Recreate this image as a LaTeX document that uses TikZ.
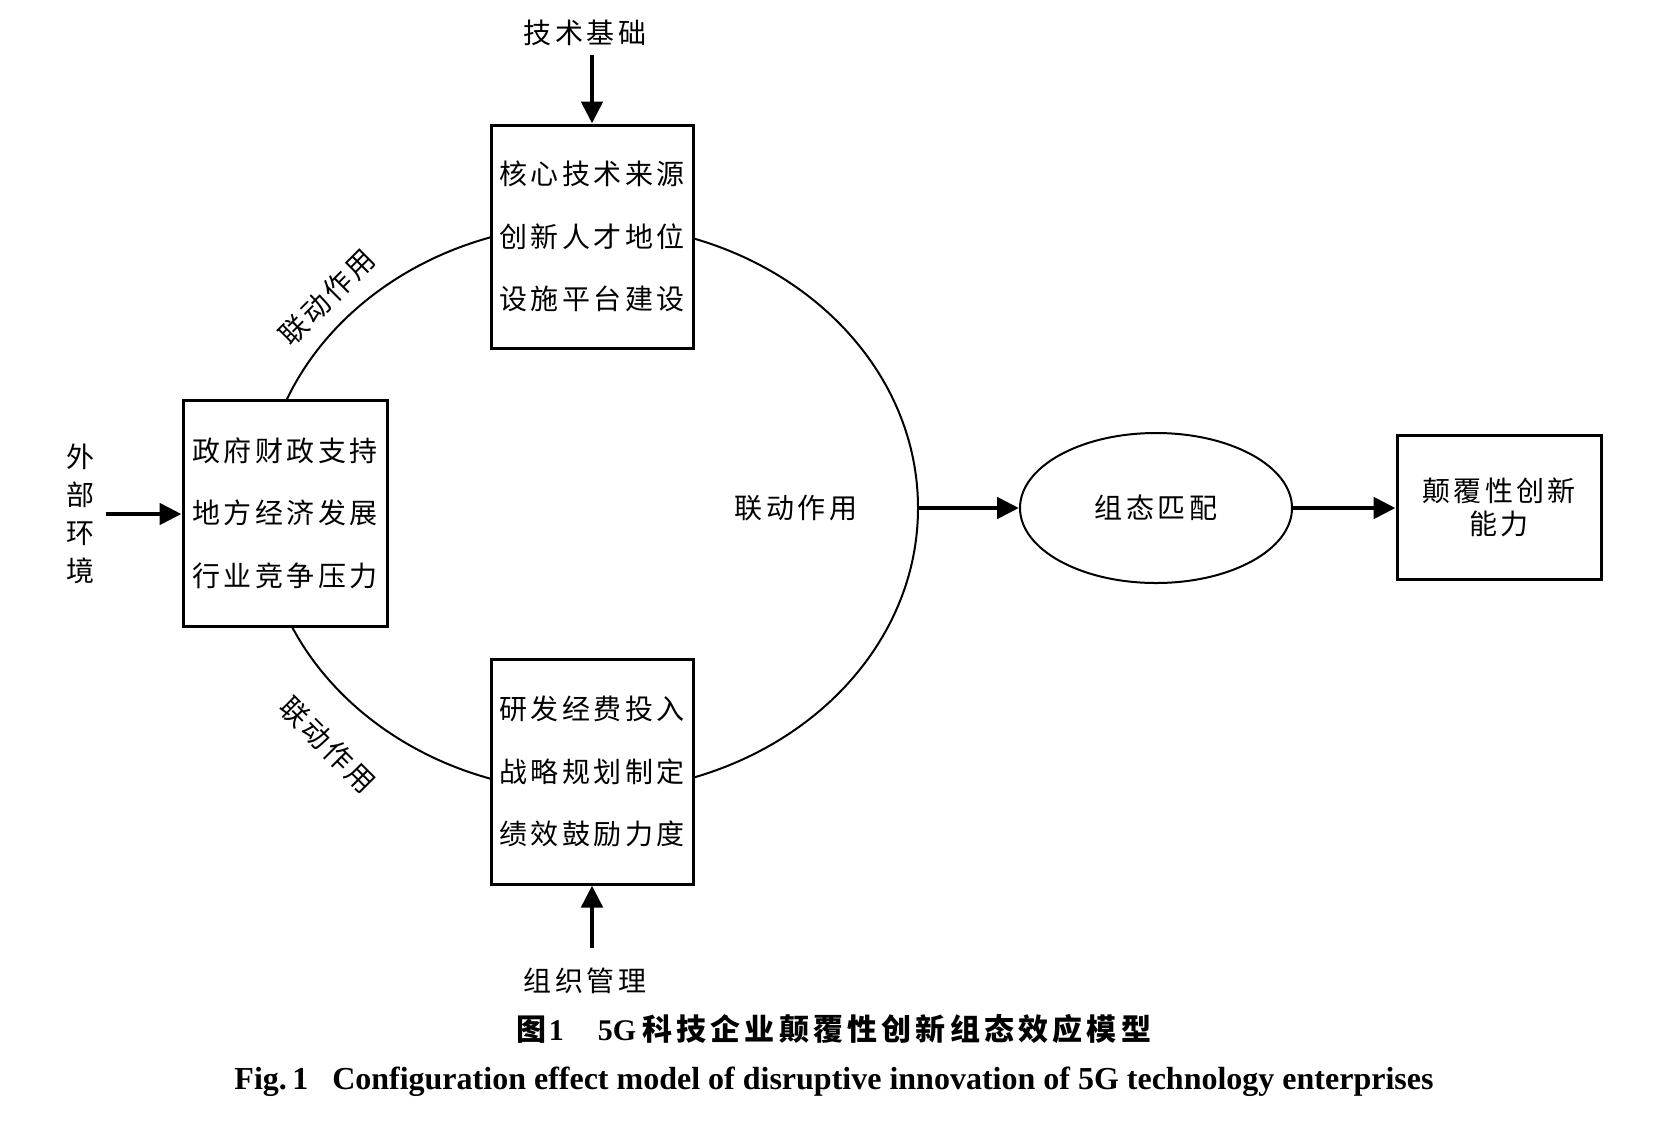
\documentclass[tikz,border=0pt]{standalone}
\usepackage{fontspec}
\setmainfont{Liberation Serif}
\newfontfamily\cjk[LetterSpace=12]{Noto Sans CJK SC}
\newfontfamily\cjkcap[LetterSpace=14]{Noto Sans CJK SC}
\usetikzlibrary{shapes.geometric,arrows.meta}
\begin{document}
\begin{tikzpicture}[x=0.5pt,y=-0.5pt,
  box/.style={draw,line width=1.5pt,fill=white,inner sep=0pt,align=center,
    font=\cjk\fontsize{14}{31.3}\selectfont},
  lbl/.style={inner sep=0pt,align=center,font=\cjk\fontsize{14}{19}\selectfont},
  arr/.style={line width=2.4pt,-{Triangle[length=11pt,width=10.5pt]}}]
\useasboundingbox[fill=white] (0,0) rectangle (1664,1120);
% big loop
\node[draw,ellipse,line width=1pt,minimum width=328pt,minimum height=284pt,inner sep=0pt] (loop) at (590,508) {};
% boxes
\node[box,minimum width=101pt,minimum height=111.5pt] (tech) at (592,236.5) {核心技术来源\\创新人才地位\\设施平台建设};
\node[box,minimum width=102pt,minimum height=113pt] (env) at (285,513) {政府财政支持\\地方经济发展\\行业竞争压力};
\node[box,minimum width=101pt,minimum height=112.5pt] (org) at (592,771.5) {研发经费投入\\战略规划制定\\绩效鼓励力度};
\node[draw,ellipse,line width=1pt,fill=white,inner sep=0pt,minimum width=136pt,minimum height=75pt,
  font=\cjk\fontsize{14}{19}\selectfont] (match) at (1156,508) {组态匹配};
\node[box,minimum width=102pt,minimum height=72pt,font=\cjk\fontsize{14}{16.5}\selectfont] (cap) at (1499,507) {颠覆性创新\\能力};
% labels
\node[lbl] (lt) at (585,33) {技术基础};
\node[lbl] (lo) at (585,981) {组织管理};
\node[lbl] (le) at (80,514) {外\\部\\环\\境};
\node[lbl] (lc) at (796,508) {联动作用};
\node[lbl,rotate=45] (l1) at (327,297) {联动作用};
\node[lbl,rotate=-45] (l2) at (328,745) {联动作用};
% arrow tails
\coordinate (ta) at (592,55);
\coordinate (oa) at (592,948);
\coordinate (ea) at (106,514);
% arrows
\draw[arr] (ta) -- (tech.north);
\draw[arr] (oa) -- (org.south);
\draw[arr] (ea) -- (env.west |- ea);
\draw[arr] (loop.east) -- (match.west);
\draw[arr] (match.east) -- (cap.west |- match.east);
% captions
\node[inner sep=0pt,font=\fontsize{15}{17}\selectfont\bfseries] (cap1) at (834,1029)
  {{\cjkcap 图}\hspace{1pt}1\hspace{17pt}5G\hspace{3pt}{\cjkcap 科技企业颠覆性创新组态效应模型}};
\node[inner sep=0pt,font=\fontsize{16}{18}\selectfont\bfseries] (cap2) at (834,1082)
  {Fig.\,1\hspace{12pt}Configuration effect model of disruptive innovation of 5G technology enterprises};
\end{tikzpicture}
\end{document}
